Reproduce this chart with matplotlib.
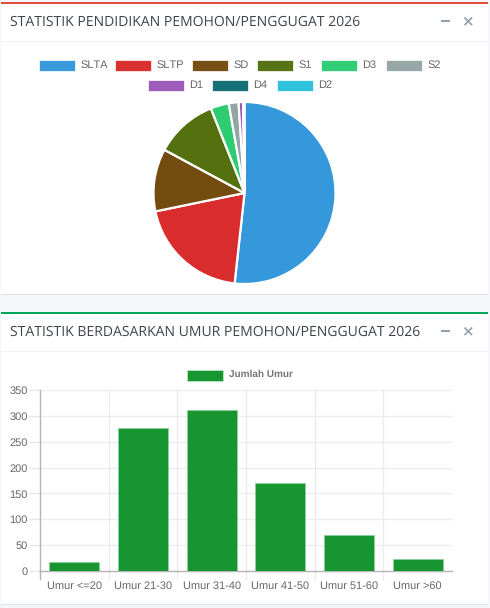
import matplotlib
matplotlib.use("Agg")
import matplotlib.pyplot as plt
from matplotlib.patches import Rectangle

W, H = 490, 608

# ---- data ----
edu_labels = ["SLTA", "SLTP", "SD", "S1", "D3", "S2", "D1", "D4", "D2"]
edu_values = [447, 173, 96, 96, 28, 15, 7, 1, 1]
edu_colors = ["#3498db", "#d92c2c", "#744c10", "#55700f", "#2ecc71", "#95a5a6", "#9b59b6", "#116e75", "#2cc0dc"]

age_labels = ["Umur <=20", "Umur 21-30", "Umur 31-40", "Umur 41-50", "Umur 51-60", "Umur >60"]
age_values = [18, 277, 311, 170, 69, 23]
age_legend = "Jumlah Umur"
age_ticks = [0, 50, 100, 150, 200, 250, 300, 350]
bar_color = "#169530"

title_top = "STATISTIK PENDIDIKAN PEMOHON/PENGGUGAT 2026"
title_bottom = "STATISTIK BERDASARKAN UMUR PEMOHON/PENGGUGAT 2026"

plt.rcParams["font.family"] = ["Liberation Sans", "DejaVu Sans"]
plt.rcParams["text.hinting"] = "no_hinting"
plt.rcParams["text.hinting_factor"] = 1
fig = plt.figure(figsize=(W / 100, H / 100), dpi=100, facecolor="#f4f6f9")


def fx(x):
    return x / W


def fy(y):
    return 1 - y / H


def rect(x0, y0, x1, y1, **kw):
    fig.add_artist(Rectangle((fx(x0), fy(y1)), (x1 - x0) / W, (y1 - y0) / H,
                             transform=fig.transFigure, **kw))


def ftext(x, y, s, **kw):
    kw.setdefault("va", "center")
    fig.text(fx(x), fy(y), s, **kw)


def card(top, bottom, border, title):
    # soft shadow, white body, coloured top rule, header separator
    rect(1, bottom - 2, 487.5, bottom + 1.2, facecolor="#dfe2e7", edgecolor="none", zorder=0)
    rect(1, top, 487.5, bottom, facecolor="white", edgecolor="none", zorder=0.1)
    rect(1, top, 487.5, top + 2, facecolor=border, edgecolor="none", zorder=0.2)
    rect(1, top + 39, 487.5, top + 40, facecolor="#f1f2f3", edgecolor="none", zorder=0.2)
    ftext(9.5, top + 20.5, title, fontsize=10.3, color="#3d444b",
          family=["Open Sans", "DejaVu Sans"])
    rect(441, top + 18.2, 449.5, top + 20, facecolor="#97a0b3", edgecolor="none", zorder=0.3)
    ftext(467.5, top + 19, "\u00d7", fontsize=10.5, color="#97a0b3", ha="center",
          fontweight="bold", family="DejaVu Sans")


card(2, 294, "#e04b3a", title_top)
card(312, 604, "#00a65a", title_bottom)

# ---- pie ----
cx, cy, r = 244.5, 193, 91
pad = 1.12
side = 2 * r * pad
ax_pie = fig.add_axes([fx(cx - side / 2), fy(cy + side / 2), side / W, side / H], zorder=5)
ax_pie.pie(edu_values, colors=edu_colors, startangle=90, counterclock=False, radius=1,
           wedgeprops=dict(edgecolor="white", linewidth=1.6))
ax_pie.set_xlim(-pad, pad)
ax_pie.set_ylim(-pad, pad)
ax_pie.set_aspect("equal")
ax_pie.axis("off")

# legend, top card: two centred rows
row1_x = [39, 115, 192, 257, 321, 386]
row2_x = [148, 212, 277]
legend_x = row1_x + row2_x
legend_y = [65] * len(row1_x) + [85] * len(row2_x)
for name, col, lx, ly in zip(edu_labels, edu_colors, legend_x, legend_y):
    rect(lx, ly - 5, lx + 36, ly + 6, facecolor=col, edgecolor="white", linewidth=0.5, alpha=0.98, zorder=1)
    ftext(lx + 41.5, ly + 0.3, name, fontsize=8.2, color="#666666")

# ---- bars ----
x_left, x_right, y_top, y_zero = 40, 452, 390, 571
ax = fig.add_axes([fx(x_left), fy(y_zero), (x_right - x_left) / W, (y_zero - y_top) / H], zorder=5)
ax.patch.set_alpha(0)
positions = range(len(age_values))
ax.bar(positions, age_values, width=0.725, color=bar_color,
       edgecolor="#8fd09d", linewidth=0.6, zorder=3)
ax.set_xlim(-0.5, len(age_values) - 0.5)
ax.set_ylim(0, 350)
ax.set_yticks(age_ticks)
ax.set_xticks(list(positions))
ax.set_xticklabels(age_labels)
ax.tick_params(axis="y", length=8, width=1, color="#e6e6e6", labelsize=8.2,
               labelcolor="#666666", pad=1)
ax.tick_params(axis="x", length=0, labelsize=8.2, labelcolor="#666666", pad=6.8)
ax.grid(axis="y", color="#ececec", linewidth=1, zorder=0)
for b in [i + 0.5 for i in positions][:-1]:
    ax.axvline(b, color="#ececec", linewidth=1, zorder=0)
    ax.plot([b, b], [0, -0.045], transform=ax.get_xaxis_transform(), color="#ececec",
            linewidth=1, clip_on=False, zorder=0)
for s in ["top", "right"]:
    ax.spines[s].set_visible(False)
for s in ["left", "bottom"]:
    ax.spines[s].set_color("#b5b5b5")
    ax.spines[s].set_linewidth(1)
ax.plot([0, 0], [0, -0.045], transform=ax.transAxes, color="#b5b5b5", linewidth=1,
        clip_on=False, zorder=2)

# legend, bottom card
rect(187, 370, 223, 380.5, facecolor=bar_color, edgecolor="#b9e0c1", linewidth=0.7, zorder=1)
ftext(228.5, 374.5, age_legend, fontsize=7.2, color="#666666", fontweight="bold", alpha=0.9)

fig.savefig("out.png", dpi=100, facecolor=fig.get_facecolor())
